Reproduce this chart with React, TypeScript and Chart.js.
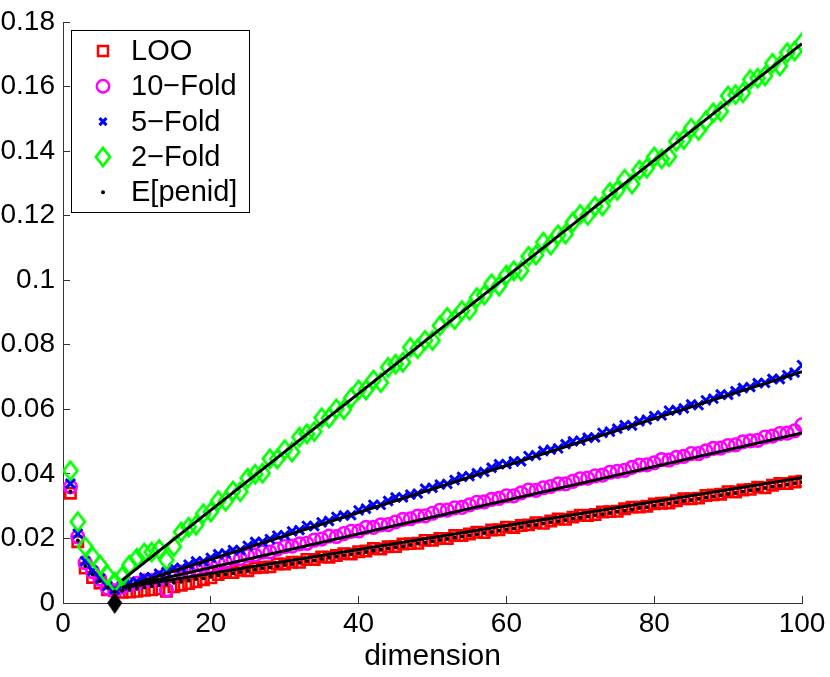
import React, { useEffect, useRef } from 'react';
import { Chart, registerables } from 'chart.js';

Chart.register(...registerables);

const dims = [
  1, 2, 3, 4, 5, 6, 7, 8, 9, 10, 11, 12, 13, 14, 15, 16, 17, 18, 19, 20,
  21, 22, 23, 24, 25, 26, 27, 28, 29, 30, 31, 32, 33, 34, 35, 36, 37, 38, 39, 40,
  41, 42, 43, 44, 45, 46, 47, 48, 49, 50, 51, 52, 53, 54, 55, 56, 57, 58, 59, 60,
  61, 62, 63, 64, 65, 66, 67, 68, 69, 70, 71, 72, 73, 74, 75, 76, 77, 78, 79, 80,
  81, 82, 83, 84, 85, 86, 87, 88, 89, 90, 91, 92, 93, 94, 95, 96, 97, 98, 99, 100,
];

const loo = [
  0.0340, 0.0190, 0.0108, 0.0079, 0.0062, 0.0041, 0.0038, 0.0033, 0.0034, 0.0036,
  0.0039, 0.0041, 0.0044, 0.0036, 0.0050, 0.0055, 0.0060, 0.0066, 0.0072, 0.0078,
  0.0088, 0.0094, 0.0094, 0.0101, 0.0100, 0.0109, 0.0111, 0.0112, 0.0121, 0.0121,
  0.0126, 0.0126, 0.0135, 0.0135, 0.0143, 0.0142, 0.0147, 0.0153, 0.0152, 0.0159,
  0.0161, 0.0169, 0.0167, 0.0174, 0.0175, 0.0183, 0.0184, 0.0185, 0.0194, 0.0194,
  0.0200, 0.0200, 0.0209, 0.0209, 0.0214, 0.0219, 0.0218, 0.0226, 0.0227, 0.0235,
  0.0234, 0.0240, 0.0242, 0.0249, 0.0247, 0.0254, 0.0260, 0.0259, 0.0266, 0.0272,
  0.0271, 0.0274, 0.0282, 0.0283, 0.0284, 0.0292, 0.0297, 0.0297, 0.0300, 0.0307,
  0.0309, 0.0310, 0.0317, 0.0323, 0.0323, 0.0325, 0.0333, 0.0335, 0.0337, 0.0345,
  0.0344, 0.0350, 0.0352, 0.0359, 0.0357, 0.0365, 0.0370, 0.0370, 0.0375, 0.0377,
];

const fold10 = [
  0.0360, 0.0205, 0.0125, 0.0097, 0.0074, 0.0046, 0.0038, 0.0049, 0.0057, 0.0061,
  0.0069, 0.0070, 0.0078, 0.0040, 0.0088, 0.0096, 0.0097, 0.0105, 0.0113, 0.0115,
  0.0124, 0.0126, 0.0137, 0.0138, 0.0146, 0.0149, 0.0158, 0.0158, 0.0167, 0.0175,
  0.0176, 0.0183, 0.0185, 0.0195, 0.0198, 0.0207, 0.0206, 0.0215, 0.0222, 0.0223,
  0.0234, 0.0234, 0.0242, 0.0243, 0.0251, 0.0259, 0.0261, 0.0269, 0.0270, 0.0278,
  0.0287, 0.0288, 0.0295, 0.0296, 0.0304, 0.0312, 0.0313, 0.0321, 0.0324, 0.0332,
  0.0332, 0.0341, 0.0350, 0.0349, 0.0357, 0.0361, 0.0369, 0.0369, 0.0377, 0.0385,
  0.0387, 0.0394, 0.0396, 0.0405, 0.0408, 0.0411, 0.0420, 0.0427, 0.0428, 0.0434,
  0.0444, 0.0443, 0.0451, 0.0454, 0.0463, 0.0463, 0.0471, 0.0479, 0.0480, 0.0488,
  0.0490, 0.0499, 0.0502, 0.0504, 0.0514, 0.0517, 0.0525, 0.0526, 0.0533, 0.0552,
];

const fold5 = [
  0.0370, 0.0215, 0.0130, 0.0100, 0.0076, 0.0053, 0.0042, 0.0054, 0.0063, 0.0066,
  0.0079, 0.0080, 0.0091, 0.0096, 0.0109, 0.0108, 0.0119, 0.0129, 0.0129, 0.0140,
  0.0151, 0.0154, 0.0164, 0.0164, 0.0177, 0.0189, 0.0189, 0.0198, 0.0209, 0.0210,
  0.0222, 0.0226, 0.0239, 0.0238, 0.0250, 0.0254, 0.0267, 0.0271, 0.0272, 0.0287,
  0.0292, 0.0304, 0.0304, 0.0316, 0.0327, 0.0327, 0.0336, 0.0339, 0.0354, 0.0357,
  0.0367, 0.0369, 0.0381, 0.0391, 0.0393, 0.0402, 0.0406, 0.0419, 0.0430, 0.0430,
  0.0439, 0.0439, 0.0455, 0.0458, 0.0471, 0.0475, 0.0479, 0.0492, 0.0501, 0.0503,
  0.0512, 0.0513, 0.0527, 0.0531, 0.0540, 0.0551, 0.0550, 0.0563, 0.0568, 0.0579,
  0.0581, 0.0596, 0.0598, 0.0603, 0.0615, 0.0613, 0.0628, 0.0633, 0.0646, 0.0645,
  0.0656, 0.0666, 0.0669, 0.0681, 0.0682, 0.0694, 0.0694, 0.0706, 0.0714, 0.0737,
];

const fold2 = [
  0.0410, 0.0252, 0.0175, 0.0144, 0.0118, 0.0087, 0.0065, 0.0082, 0.0118, 0.0139,
  0.0155, 0.0158, 0.0166, 0.0133, 0.0175, 0.0220, 0.0235, 0.0241, 0.0277, 0.0282,
  0.0317, 0.0315, 0.0347, 0.0345, 0.0387, 0.0399, 0.0402, 0.0447, 0.0446, 0.0475,
  0.0468, 0.0514, 0.0524, 0.0531, 0.0574, 0.0573, 0.0602, 0.0599, 0.0635, 0.0660,
  0.0660, 0.0691, 0.0683, 0.0730, 0.0740, 0.0746, 0.0792, 0.0788, 0.0814, 0.0813,
  0.0859, 0.0885, 0.0878, 0.0906, 0.0907, 0.0946, 0.0954, 0.0989, 0.0982, 0.1016,
  0.1029, 0.1029, 0.1074, 0.1078, 0.1118, 0.1109, 0.1141, 0.1143, 0.1180, 0.1204,
  0.1201, 0.1229, 0.1230, 0.1272, 0.1278, 0.1313, 0.1298, 0.1341, 0.1347, 0.1382,
  0.1376, 0.1383, 0.1430, 0.1436, 0.1471, 0.1464, 0.1494, 0.1519, 0.1523, 0.1571,
  0.1575, 0.1581, 0.1622, 0.1626, 0.1633, 0.1672, 0.1664, 0.1705, 0.1710, 0.1736,
];

const penid = [
  0.0345, 0.0194, 0.0115, 0.0088, 0.0068, 0.0047, 0.0036, 0.0038, 0.0041, 0.0045,
  0.0048, 0.0052, 0.0055, 0.0059, 0.0063, 0.0066, 0.0070, 0.0074, 0.0077, 0.0081,
  0.0085, 0.0088, 0.0092, 0.0096, 0.0099, 0.0103, 0.0107, 0.0110, 0.0114, 0.0118,
  0.0121, 0.0125, 0.0129, 0.0132, 0.0136, 0.0140, 0.0143, 0.0147, 0.0151, 0.0154,
  0.0158, 0.0162, 0.0165, 0.0169, 0.0173, 0.0176, 0.0180, 0.0184, 0.0187, 0.0191,
  0.0195, 0.0198, 0.0202, 0.0206, 0.0209, 0.0213, 0.0217, 0.0220, 0.0224, 0.0228,
  0.0231, 0.0235, 0.0239, 0.0242, 0.0246, 0.0250, 0.0253, 0.0257, 0.0261, 0.0264,
  0.0268, 0.0272, 0.0275, 0.0279, 0.0283, 0.0286, 0.0290, 0.0294, 0.0297, 0.0301,
  0.0305, 0.0308, 0.0312, 0.0316, 0.0319, 0.0323, 0.0327, 0.0330, 0.0334, 0.0338,
  0.0341, 0.0345, 0.0349, 0.0352, 0.0356, 0.0360, 0.0363, 0.0367, 0.0371, 0.0374,
];

// fitted lines, from the selected dimension to the last one
const fitDims = [8, 100];
const fitLoo = [0.0047, 0.0388];
const fit10 = [0.0047, 0.0527];
const fit5 = [0.0048, 0.0717];
const fit2 = [0.0071, 0.1733];

// selected dimension
const bestDim = [7];
const bestValue = [0];

const xTicks = [0, 20, 40, 60, 80, 100];
const yTicks = [0, 0.02, 0.04, 0.06, 0.08, 0.1, 0.12, 0.14, 0.16, 0.18];

const FONT = '"Liberation Sans", Arial, Helvetica, sans-serif';

function makeDiamond(w: number, h: number, stroke: string, fill: string, lw: number) {
  const c = document.createElement('canvas');
  c.width = Math.ceil(w + lw * 2 + 2);
  c.height = Math.ceil(h + lw * 2 + 2);
  const g = c.getContext('2d')!;
  const cx = c.width / 2;
  const cy = c.height / 2;
  g.beginPath();
  g.moveTo(cx, cy - h / 2);
  g.lineTo(cx + w / 2, cy);
  g.lineTo(cx, cy + h / 2);
  g.lineTo(cx - w / 2, cy);
  g.closePath();
  if (fill) {
    g.fillStyle = fill;
    g.fill();
  }
  if (lw > 0) {
    g.lineWidth = lw;
    g.strokeStyle = stroke;
    g.lineJoin = 'miter';
    g.stroke();
  }
  return c;
}

const xy = (xs: number[], ys: number[]) => xs.map((x, i) => ({ x, y: ys[i] }));

const App: React.FC = () => {
  const chartRef = useRef<HTMLCanvasElement>(null);

  useEffect(() => {
    if (!chartRef.current) return;
    const ctx = chartRef.current.getContext('2d');
    if (!ctx) return;

    const greenDiamond = makeDiamond(14, 18, '#00ff00', '', 2.8);
    const blackDiamond = makeDiamond(15, 22, '#000', '#000', 0);

    const legendItems = [
      { label: 'LOO', kind: 'square', color: '#ff0000' },
      { label: '10\u2212Fold', kind: 'circle', color: '#ff00ff' },
      { label: '5\u2212Fold', kind: 'x', color: '#0000ff' },
      { label: '2\u2212Fold', kind: 'diamond', color: '#00ff00' },
      { label: 'E[penid]', kind: 'dot', color: '#000' },
    ];

    const boxLegend = {
      id: 'boxLegend',
      afterDraw(chart: Chart) {
        const c = chart.ctx;
        const area = chart.chartArea;
        const left = area.left + 8;
        const top = area.top + 8;
        const w = 178;
        const h = 182;
        c.save();
        c.fillStyle = '#fff';
        c.fillRect(left, top, w, h);
        c.strokeStyle = '#000';
        c.lineWidth = 1;
        c.strokeRect(left + 0.5, top + 0.5, w, h);
        c.font = '29px ' + FONT;
        c.textBaseline = 'middle';
        c.textAlign = 'left';
        legendItems.forEach((it, i) => {
          const cy = top + 21 + i * 35.3;
          const mx = left + 32;
          c.strokeStyle = it.color;
          c.fillStyle = it.color;
          c.lineWidth = 2.5;
          if (it.kind === 'square') {
            c.strokeRect(mx - 5, cy - 5, 10, 10);
          } else if (it.kind === 'circle') {
            c.beginPath();
            c.arc(mx, cy, 6.2, 0, Math.PI * 2);
            c.stroke();
          } else if (it.kind === 'x') {
            c.lineWidth = 3;
            c.beginPath();
            c.moveTo(mx - 3.5, cy - 3.5);
            c.lineTo(mx + 3.5, cy + 3.5);
            c.moveTo(mx + 3.5, cy - 3.5);
            c.lineTo(mx - 3.5, cy + 3.5);
            c.stroke();
          } else if (it.kind === 'diamond') {
            c.drawImage(greenDiamond, mx - greenDiamond.width / 2, cy - greenDiamond.height / 2);
          } else {
            c.beginPath();
            c.arc(mx, cy, 2, 0, Math.PI * 2);
            c.fill();
          }
          c.fillStyle = '#000';
          c.fillText(it.label, left + 60, cy + 1);
        });
        c.restore();
      },
    };

    const fitStyle = {
      showLine: true,
      borderColor: '#000',
      borderWidth: 3,
      pointRadius: 0,
      order: 1,
    };

    const chart = new Chart(ctx, {
      type: 'scatter',
      data: {
        datasets: [
          {
            label: 'best',
            data: xy(bestDim, bestValue),
            pointStyle: blackDiamond,
            pointRadius: 10,
            clip: false,
            order: 0,
          },
          { label: 'fit2', data: xy(fitDims, fit2), ...fitStyle },
          { label: 'fit5', data: xy(fitDims, fit5), ...fitStyle },
          { label: 'fit10', data: xy(fitDims, fit10), ...fitStyle },
          { label: 'fitLoo', data: xy(fitDims, fitLoo), ...fitStyle },
          {
            label: 'E[penid]',
            data: xy(dims, penid),
            pointStyle: 'circle',
            pointRadius: 2,
            backgroundColor: '#000',
            borderWidth: 0,
            order: 2,
          },
          {
            label: '2-Fold',
            data: xy(dims, fold2),
            pointStyle: greenDiamond,
            pointRadius: 9,
            order: 3,
          },
          {
            label: '5-Fold',
            data: xy(dims, fold5),
            pointStyle: 'crossRot',
            pointRadius: 6.5,
            borderColor: '#0000ff',
            borderWidth: 3,
            order: 4,
          },
          {
            label: '10-Fold',
            data: xy(dims, fold10),
            pointStyle: 'circle',
            pointRadius: 6.3,
            borderColor: '#ff00ff',
            backgroundColor: 'rgba(0,0,0,0)',
            borderWidth: 2.6,
            order: 5,
          },
          {
            label: 'LOO',
            data: xy(dims, loo),
            pointStyle: 'rect',
            pointRadius: 7.3,
            borderColor: '#ff0000',
            backgroundColor: 'rgba(0,0,0,0)',
            borderWidth: 2.6,
            order: 6,
          },
        ],
      },
      options: {
        animation: false,
        responsive: true,
        maintainAspectRatio: false,
        events: [],
        layout: { padding: { left: 0, top: 22, right: 28, bottom: 0 } },
        plugins: {
          legend: { display: false },
          tooltip: { enabled: false },
        },
        scales: {
          x: {
            type: 'linear',
            min: 0,
            max: 100,
            afterFit: (s: any) => {
              s.height = 74;
              s.paddingLeft = 0;
              s.paddingRight = 0;
            },
            afterBuildTicks: (s: any) => {
              s.ticks = xTicks.map((v) => ({ value: v }));
            },
            ticks: {
              font: { family: FONT, size: 28 },
              color: '#000',
              padding: 11,
              maxRotation: 0,
            },
            grid: {
              drawOnChartArea: false,
              tickLength: -7,
              color: '#333',
              lineWidth: 1,
            },
            border: { color: '#333', width: 1 },
            title: {
              display: true,
              text: 'dimension',
              color: '#000',
              font: { family: FONT, size: 30 },
              padding: { top: 0, bottom: 2 },
            },
          },
          y: {
            type: 'linear',
            min: 0,
            max: 0.18,
            afterFit: (s: any) => {
              s.width = 63;
              s.paddingTop = 0;
              s.paddingBottom = 0;
            },
            afterBuildTicks: (s: any) => {
              s.ticks = yTicks.map((v) => ({ value: v }));
            },
            ticks: {
              font: { family: FONT, size: 28 },
              color: '#000',
              padding: 15,
              callback: (v: any) => String(Number(Number(v).toFixed(2))),
            },
            grid: {
              drawOnChartArea: false,
              tickLength: -7,
              color: '#333',
              lineWidth: 1,
            },
            border: { color: '#333', width: 1 },
          },
        },
      },
      plugins: [boxLegend],
    });

    return () => {
      chart.destroy();
    };
  }, []);

  return (
    <div style={{ position: 'absolute', left: 0, top: 0, width: 830, height: 677, background: '#fff' }}>
      <canvas ref={chartRef} />
    </div>
  );
};

export default App;
